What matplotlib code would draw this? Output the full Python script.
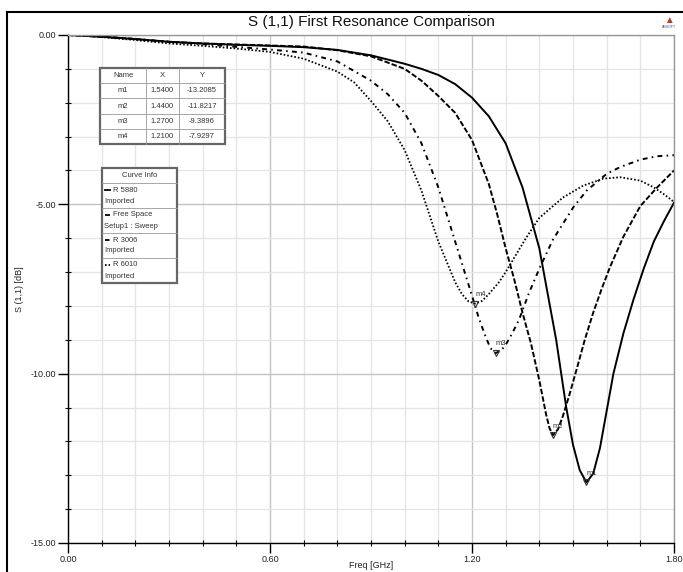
import matplotlib
matplotlib.use("Agg")
import matplotlib.pyplot as plt
from matplotlib.patches import Rectangle
from matplotlib.lines import Line2D
from matplotlib.ticker import MultipleLocator, FormatStrFormatter

plt.rcParams["font.family"] = ["Liberation Sans", "DejaVu Sans"]

# --- data ---
f_5880 = [0, 0.1, 0.2, 0.3, 0.4, 0.5, 0.6, 0.7, 0.8, 0.9, 1.0, 1.05, 1.1, 1.15, 1.2, 1.25,
          1.3, 1.35, 1.4, 1.45, 1.48, 1.5, 1.52, 1.54, 1.56, 1.58, 1.6, 1.62, 1.65, 1.68,
          1.71, 1.74, 1.77, 1.8]
s_5880 = [0, -0.05, -0.12, -0.2, -0.25, -0.29, -0.32, -0.36, -0.44, -0.6, -0.85, -1.0, -1.18,
          -1.45, -1.85, -2.4, -3.2, -4.5, -6.3, -9.0, -11.0, -12.1, -12.85, -13.21, -12.95,
          -12.2, -11.1, -10.0, -8.8, -7.8, -6.9, -6.1, -5.5, -4.95]

f_free = [0, 0.1, 0.2, 0.3, 0.4, 0.5, 0.6, 0.7, 0.8, 0.9, 1.0, 1.05, 1.1, 1.15, 1.2, 1.25,
          1.275, 1.3, 1.325, 1.35, 1.375, 1.4, 1.42, 1.43, 1.44, 1.455, 1.47, 1.49, 1.51,
          1.535, 1.56, 1.585, 1.61, 1.65, 1.7, 1.75, 1.8]
s_free = [0, -0.05, -0.12, -0.2, -0.25, -0.28, -0.31, -0.34, -0.45, -0.63, -1.0, -1.35,
          -1.8, -2.3, -3.1, -4.4, -5.3, -6.3, -7.2, -8.2, -9.1, -10.2, -11.2, -11.6, -11.82,
          -11.65, -11.25, -10.6, -9.9, -9.0, -8.2, -7.5, -6.85, -5.95, -5.05, -4.5, -4.0]

f_3006 = [0, 0.1, 0.2, 0.3, 0.4, 0.5, 0.6, 0.7, 0.8, 0.9, 0.95, 1.0, 1.05, 1.1, 1.15, 1.2,
          1.22, 1.24, 1.255, 1.27, 1.285, 1.3, 1.32, 1.34, 1.37, 1.4, 1.44, 1.5, 1.54, 1.6,
          1.64, 1.7, 1.75, 1.8]
s_3006 = [0, -0.05, -0.12, -0.2, -0.27, -0.35, -0.43, -0.52, -0.78, -1.35, -1.75, -2.3,
          -3.2, -4.5, -6.1, -7.7, -8.35, -8.9, -9.25, -9.39, -9.33, -9.15, -8.8, -8.4, -7.6,
          -6.9, -6.05, -5.1, -4.6, -4.1, -3.9, -3.68, -3.58, -3.55]

f_6010 = [0, 0.1, 0.2, 0.3, 0.4, 0.5, 0.6, 0.7, 0.8, 0.85, 0.9, 0.95, 1.0, 1.05, 1.1, 1.15,
          1.17, 1.19, 1.21, 1.23, 1.25, 1.28, 1.3, 1.33, 1.36, 1.4, 1.47, 1.53, 1.59, 1.64,
          1.7, 1.74, 1.77, 1.8]
s_6010 = [0, -0.06, -0.15, -0.25, -0.32, -0.4, -0.5, -0.7, -1.08, -1.4, -1.95, -2.55, -3.4,
          -4.6, -6.1, -7.3, -7.65, -7.87, -7.93, -7.85, -7.65, -7.3, -7.0, -6.5, -6.0, -5.4,
          -4.8, -4.45, -4.24, -4.2, -4.3, -4.5, -4.7, -4.93]

marker_names = ["m1", "m2", "m3", "m4"]
marker_x = [1.54, 1.44, 1.27, 1.21]
marker_y = [-13.2085, -11.8217, -9.3896, -7.9297]

curve_names = ["R 5880", "Free Space", "R 3006", "R 6010"]
curve_sources = ["Imported", "Setup1 : Sweep", "Imported", "Imported"]

W, H = 683, 572
fig = plt.figure(figsize=(W / 100, H / 100), dpi=100)


def px(x, y):
    return x / W, 1 - y / H


ax = fig.add_axes([68 / W, 1 - 543 / H, (674 - 68) / W, (543 - 35) / H])

styles = [dict(ls="-", lw=1.4),
          dict(ls=(0, (2.8, 1.1)), lw=1.4),
          dict(ls=(0, (2.5, 2.2, 0.8, 2.2)), lw=1.4),
          dict(ls=(0, (0.9, 1.1)), lw=1.3)]
series = [(f_5880, s_5880), (f_free, s_free), (f_3006, s_3006), (f_6010, s_6010)]
for (fx, sy), st in zip(series, styles):
    ax.plot(fx, sy, color="black", solid_joinstyle="round", **st)

for name, mx, my in zip(marker_names, marker_x, marker_y):
    ax.plot(mx, my, marker="v", ms=5, mfc="none", mec="#333333", mew=0.8)
    ax.annotate(name, (mx, my), xytext=(0, 4), textcoords="offset points",
                fontsize=5.5, color="#333333", ha="left", va="bottom")

ax.set_xlim(0, 1.8)
ax.set_ylim(-15, 0)
ax.xaxis.set_major_locator(MultipleLocator(0.6))
ax.xaxis.set_minor_locator(MultipleLocator(0.1))
ax.yaxis.set_major_locator(MultipleLocator(5))
ax.yaxis.set_minor_locator(MultipleLocator(1))
ax.xaxis.set_major_formatter(FormatStrFormatter("%.2f"))
ax.yaxis.set_major_formatter(FormatStrFormatter("%.2f"))
ax.grid(which="minor", color="#e4e4e4", lw=0.9)
ax.grid(which="major", color="#c4c4c4", lw=1.0)
ax.set_axisbelow(True)
ax.tick_params(which="major", direction="out", length=7, width=1, labelsize=6.5,
               colors="black", labelcolor="#222222", pad=1.5)
ax.tick_params(which="minor", direction="inout", length=4, width=0.8)
for side in ["left", "bottom"]:
    ax.spines[side].set_color("black")
    ax.spines[side].set_linewidth(1.0)
for side in ["top", "right"]:
    ax.spines[side].set_color("#999999")
    ax.spines[side].set_linewidth(1.0)

ax.set_xlabel("Freq [GHz]", fontsize=6.5, color="#222222")
ax.xaxis.set_label_coords(0.5, -0.035)
ax.set_ylabel("S (1,1) [dB]", fontsize=6.5, color="#222222")
ax.yaxis.set_label_coords(-0.072, 0.5)

fig.text(*px(371, 22), "S (1,1) First Resonance Comparison", fontsize=11,
         ha="center", va="center", color="#111111")

# logo
fig.text(*px(669, 20), "\u25b2", fontsize=7, color="#c0392b", ha="center", va="center")
fig.text(*px(669, 27), "ANSOFT", fontsize=2.5, color="#555555", ha="center", va="center")

# outer frame
fig.add_artist(Line2D([7 / W, 7 / W], [0, 1 - 12 / H], color="black", lw=1.5,
                      transform=fig.transFigure))
fig.add_artist(Line2D([7 / W, 1], [1 - 12 / H, 1 - 12 / H], color="black", lw=1.5,
                      transform=fig.transFigure))


def box(x0, y0, x1, y1, lw=0.6, ec="#888888", fc="none", z=5):
    fig.add_artist(Rectangle(px(x0, y1), (x1 - x0) / W, (y1 - y0) / H, lw=lw,
                             ec=ec, fc=fc, transform=fig.transFigure, zorder=z))


def hline(x0, x1, y, lw=0.6, c="#999999"):
    fig.add_artist(Line2D([x0 / W, x1 / W], [1 - y / H] * 2, color=c, lw=lw,
                          transform=fig.transFigure, zorder=6))


def vline(x, y0, y1, lw=0.6, c="#999999"):
    fig.add_artist(Line2D([x / W] * 2, [1 - y0 / H, 1 - y1 / H], color=c, lw=lw,
                          transform=fig.transFigure, zorder=6))


# marker table
tx0, tx1, ty0, ty1 = 100, 225, 68, 144
cols = [100, 146, 179, 225]
rh = (ty1 - ty0) / 5
box(tx0, ty0, tx1, ty1, lw=1.6, ec="#666666", fc="white")
for i in range(1, 5):
    hline(tx0, tx1, ty0 + i * rh)
for c in cols[1:-1]:
    vline(c, ty0, ty1)
rows = [["Name", "X", "Y"]] + [[n, f"{x:.4f}", f"{y:.4f}"]
                               for n, x, y in zip(marker_names, marker_x, marker_y)]
for r, row in enumerate(rows):
    for c, txt in enumerate(row):
        fig.text(*px((cols[c] + cols[c + 1]) / 2, ty0 + (r + 0.5) * rh), txt,
                 fontsize=5.5, ha="center", va="center", color="#333333", zorder=7)

# curve info table
cx0, cx1 = 102, 177
seps = [168, 183, 208, 233, 258, 283]
box(cx0, seps[0], cx1, seps[-1], lw=1.6, ec="#666666", fc="white")
for s in seps[1:-1]:
    hline(cx0, cx1, s)
fig.text(*px((cx0 + cx1) / 2, 175.5), "Curve Info", fontsize=5.5, ha="center",
         va="center", color="#333333", zorder=7)
for i, (nm, src, st) in enumerate(zip(curve_names, curve_sources, styles)):
    top = seps[i + 1]
    fig.add_artist(Line2D([105 / W, 110 / W], [1 - (top + 7) / H] * 2, color="black",
                          lw=1.3, ls=st["ls"], transform=fig.transFigure, zorder=7))
    fig.text(*px(113, top + 7), nm, fontsize=5.5, ha="left", va="center",
             color="#333333", zorder=7)
    fig.text(*px(104, top + 18), src, fontsize=5.5, ha="left", va="center",
             color="#333333", zorder=7)

fig.savefig("out.png", dpi=100)
